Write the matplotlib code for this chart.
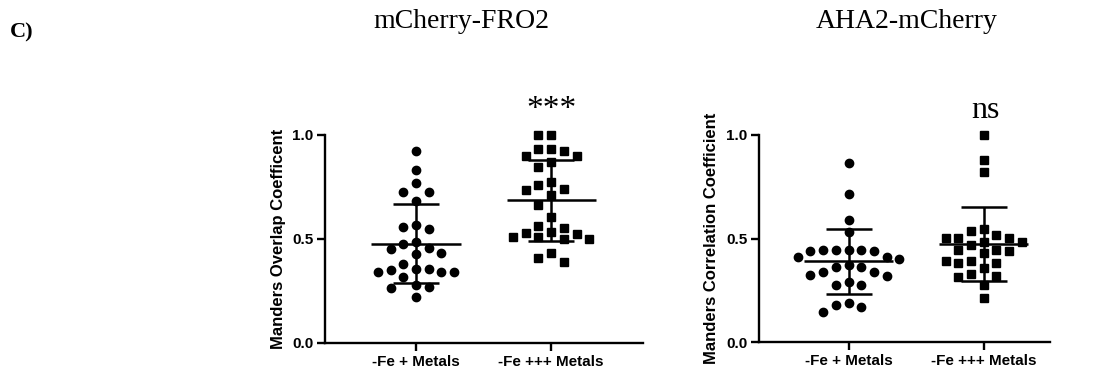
import numpy as np
import matplotlib
matplotlib.use('Agg')
import matplotlib.pyplot as plt

# ---- data ----
groups = ['-Fe + Metals', '-Fe +++ Metals']

fro2_low = [0.925, 0.83, 0.77, 0.727, 0.727, 0.683, 0.567, 0.558, 0.548, 0.486,
            0.476, 0.458, 0.452, 0.434, 0.428, 0.38, 0.357, 0.355, 0.35, 0.343,
            0.34, 0.34, 0.317, 0.28, 0.27, 0.265, 0.223]
fro2_high = [1.0, 1.0, 0.933, 0.933, 0.925, 0.90, 0.90, 0.869, 0.845, 0.776,
             0.76, 0.739, 0.736, 0.712, 0.663, 0.604, 0.564, 0.554, 0.532, 0.527,
             0.524, 0.51, 0.51, 0.498, 0.498, 0.431, 0.407, 0.391]
aha2_low = [0.863, 0.713, 0.589, 0.533, 0.446, 0.446, 0.444, 0.444, 0.441, 0.441,
            0.412, 0.412, 0.401, 0.372, 0.364, 0.361, 0.337, 0.337, 0.324, 0.319,
            0.291, 0.275, 0.275, 0.187, 0.179, 0.171, 0.143]
aha2_high = [1.0, 0.879, 0.823, 0.544, 0.538, 0.517, 0.501, 0.501, 0.501, 0.485,
             0.485, 0.469, 0.444, 0.444, 0.441, 0.428, 0.391, 0.391, 0.383, 0.38,
             0.356, 0.329, 0.319, 0.313, 0.275, 0.211]

titles = ['mCherry-FRO2', 'AHA2-mCherry']
ylabels = ['Manders Overlap Coefficent', 'Manders Correlation Coefficient']
signif = ['***', 'ns']
yticks = [0.0, 0.5, 1.0]

W, H = 1106, 372
fig = plt.figure(figsize=(W / 100, H / 100), dpi=100)
sans = ['Liberation Sans', 'DejaVu Sans']
serif = ['Liberation Serif', 'DejaVu Serif']


def swarm(ax, x0, vals, d_px=11.0, step_px=12.7):
    """simple beeswarm: greedy placement on a horizontal grid"""
    t = ax.transData
    px_per_x = t.transform((1, 0))[0] - t.transform((0, 0))[0]
    ys = np.array([t.transform((x0, v))[1] for v in vals])
    order = np.argsort(-np.asarray(vals))
    placed = []
    xs = np.zeros(len(vals))
    cands = [0]
    for j in range(1, 12):
        cands += [-j, j]
    for i in order:
        for k in cands:
            dx = k * step_px
            ok = all((dx - px) ** 2 + (ys[i] - py) ** 2 >= d_px ** 2 for px, py in placed)
            if ok:
                break
        placed.append((dx, ys[i]))
        xs[i] = x0 + dx / px_per_x
    return xs


def panel(rect, xlim, low, high, ylabel):
    ax = fig.add_axes(rect)
    ax.set_xlim(*xlim)
    ax.set_ylim(0, 1.0)
    for s in ['top', 'right']:
        ax.spines[s].set_visible(False)
    for s in ['left', 'bottom']:
        ax.spines[s].set_linewidth(1.7)
    ax.set_yticks(yticks)
    ax.set_yticklabels([f'{v:.1f}' for v in yticks], fontweight='bold',
                       fontsize=11, family=sans)
    ax.set_xticks([0, 1])
    ax.set_xticklabels(groups, fontweight='bold', fontsize=11, family=sans)
    ax.tick_params(width=1.7, length=5.5, pad=3)
    ax.set_ylabel(ylabel, fontweight='bold', fontsize=12, family=sans, va='center')
    ax.yaxis.set_label_coords(-47 / (rect[2] * W), 0.5)

    for x0, vals, mk, ms in [(0, low, 'o', 6.0), (1, high, 's', 5.2)]:
        xs = swarm(ax, x0, vals)
        ax.plot(xs, vals, ls='none', marker=mk, ms=ms, color='black',
                mec='black', clip_on=False, zorder=2)
        m = np.mean(vals)
        sd = np.std(vals, ddof=1)
        ax.hlines(m, x0 - 0.33, x0 + 0.33, color='black', lw=1.8, zorder=3)
        ax.vlines(x0, m - sd, m + sd, color='black', lw=1.8, zorder=3)
        ax.hlines([m - sd, m + sd], x0 - 0.17, x0 + 0.17, color='black', lw=1.8, zorder=3)
    return ax


ax1 = panel([325 / W, 29 / H, 318 / W, 208 / H], (-0.674, 1.68),
            fro2_low, fro2_high, ylabels[0])
ax2 = panel([759 / W, 30 / H, 291 / W, 207 / H], (-0.662, 1.49),
            aha2_low, aha2_high, ylabels[1])

# significance labels
fig.text(551 / W, 1 - 110 / H, signif[0], ha='center', va='center',
         fontsize=24, family=serif)
fig.text(985 / W, 1 - 111 / H, signif[1], ha='center', va='center',
         fontsize=23, family=serif)

# titles
fig.text(461 / W, 1 - 21 / H, titles[0], ha='center', va='center',
         fontsize=20, family=serif)
fig.text(907 / W, 1 - 21 / H, titles[1], ha='center', va='center',
         fontsize=20, family=serif)
fig.text(10 / W, 1 - 32 / H, 'C)', ha='left', va='center',
         fontsize=16, fontweight='bold', family=serif)

fig.savefig('out.png', dpi=100)
